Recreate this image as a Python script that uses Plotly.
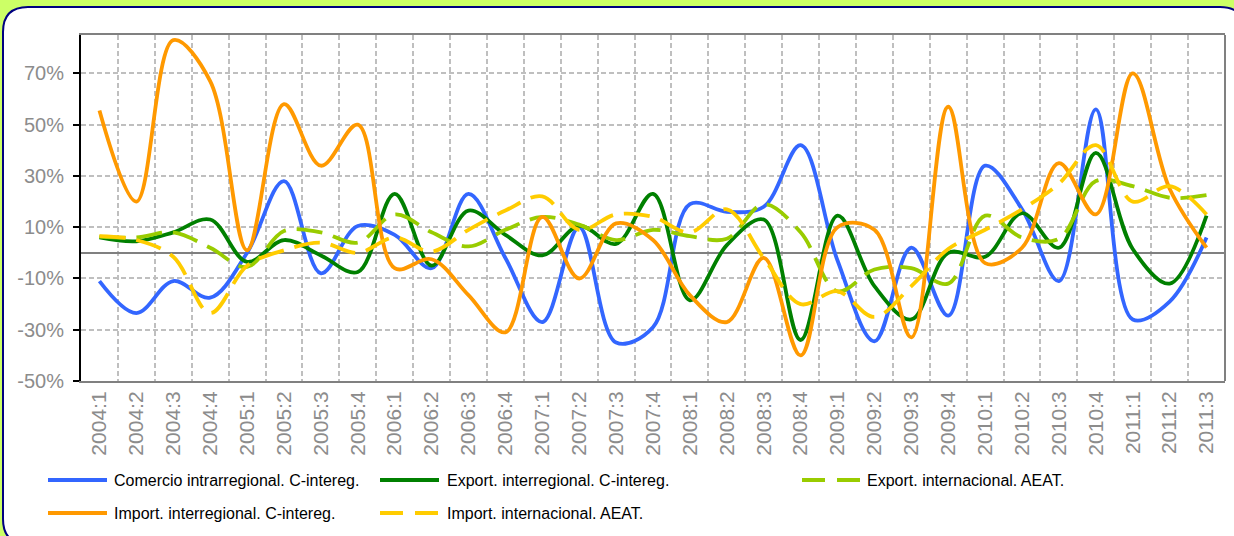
import plotly.graph_objects as go

# Quarterly periods (category axis)
periods = [
    "2004:1", "2004:2", "2004:3", "2004:4",
    "2005:1", "2005:2", "2005:3", "2005:4",
    "2006:1", "2006:2", "2006:3", "2006:4",
    "2007:1", "2007:2", "2007:3", "2007:4",
    "2008:1", "2008:2", "2008:3", "2008:4",
    "2009:1", "2009:2", "2009:3", "2009:4",
    "2010:1", "2010:2", "2010:3", "2010:4",
    "2011:1", "2011:2", "2011:3",
]

# Year-on-year rates, in percent
comercio_intrarregional = [
    -11, -23.5, -11, -17.5, 0, 28, -8, 10.5,
    7, -6, 23, -2, -27, 10, -35, -29,
    19, 16, 18, 42, -3, -34.5, 2, -24.5,
    34, 17, -11, 56, -26, -19, 6,
]
export_interregional = [
    6, 4.5, 8, 13, -3.5, 5, -1, -7.5,
    23, -5, 16.5, 7, -1, 10.5, 3.5, 23,
    -18.5, 3, 13, -34, 14.5, -13, -26, 0,
    -1.5, 15.5, 2, 39, 1.5, -12, 14.5,
]
export_internacional = [
    6.3, 6, 8, 2, -5.5, 8.5, 8, 4,
    15, 8, 2.5, 9, 14, 11, 5, 9,
    6.5, 5.5, 19, 8, -15, -6.5, -6, -12,
    14.5, 6, 5.5, 28, 26, 21.5, 22.5,
]
import_interregional = [
    55.5, 20, 83, 67, 1, 58, 34, 50,
    -6, -2.5, -16.5, -31, 14, -10, 11.5, 5,
    -16.5, -27, -2, -40, 10, 9, -33, 57,
    -4, 2, 35, 15, 70, 25, 2,
]
import_internacional = [
    6.5, 5, -1.5, -23.5, -5, 1, 4, 0,
    6, 0.5, 9, 16.5, 22, 9, 15, 14,
    8, 17, -2, -20, -15, -25, -13, 1.5,
    9, 17, 27, 42, 20, 26, 15,
]

y_ticks = [-50, -30, -10, 10, 30, 50, 70]
y_tick_labels = ["-50%", "-30%", "-10%", "10%", "30%", "50%", "70%"]

series = [
    ("Comercio intrarregional. C-intereg.", comercio_intrarregional, "#3366FF", "solid"),
    ("Export. interregional. C-intereg.", export_interregional, "#008000", "solid"),
    ("Export. internacional. AEAT.", export_internacional, "#99CC00", "26px,11px"),
    ("Import. interregional. C-intereg.", import_interregional, "#FF9900", "solid"),
    ("Import. internacional. AEAT.", import_internacional, "#FFCC00", "26px,11px"),
]

# legend slot (column, row) of each series
legend_slots = [(0, 0), (1, 0), (2, 0), (0, 1), (1, 1)]

W, H = 1234, 536
PL, PR, PT, PB = 81, 1225, 35, 381  # plot area in pixels


def px_x(px):
    return (px - PL) / (PR - PL)


def px_y(py):
    return (PB - py) / (PB - PT)


fig = go.Figure()
for name, values, color, dash in series:
    fig.add_trace(go.Scatter(
        x=periods, y=values, name=name, mode="lines",
        line=dict(color=color, width=3.8, dash=dash, shape="spline", smoothing=1.0),
        showlegend=False,
    ))

# white rounded panel with navy border
bx0, by0, bx1, by1, r = 3, 7, 1245, 544, 25
pts = [
    ("M", (bx0 + r, by0)), ("L", (bx1 - r, by0)), ("Q", (bx1, by0), (bx1, by0 + r)),
    ("L", (bx1, by1 - r)), ("Q", (bx1, by1), (bx1 - r, by1)),
    ("L", (bx0 + r, by1)), ("Q", (bx0, by1), (bx0, by1 - r)),
    ("L", (bx0, by0 + r)), ("Q", (bx0, by0), (bx0 + r, by0)),
]
path = ""
for cmd, *coords in pts:
    path += cmd + " ".join(f"{px_x(cx):.5f},{px_y(cy):.5f}" for cx, cy in coords) + " "
path += "Z"
shapes = [dict(type="path", path=path, xref="paper", yref="paper",
               fillcolor="white", line=dict(color="#000080", width=2), layer="below")]

# right border of the plot area
shapes.append(dict(type="line", xref="paper", yref="paper", x0=1, x1=1, y0=0, y1=1,
                   line=dict(color="#808080", width=2)))

# legend
col_line = [(48, 107), (380, 439), (802, 860)]
col_text = [112, 445, 865]
row_y = [480, 513]
annotations = []
for (name, values, color, dash), (c, rw) in zip(series, legend_slots):
    yy = px_y(row_y[rw])
    shapes.append(dict(type="line", xref="paper", yref="paper",
                       x0=px_x(col_line[c][0]), x1=px_x(col_line[c][1]), y0=yy, y1=yy,
                       line=dict(color=color, width=3.8,
                                 dash="23px,12px" if dash != "solid" else "solid")))
    annotations.append(dict(xref="paper", yref="paper", x=px_x(col_text[c]), y=yy,
                            xanchor="left", yanchor="middle", text=name, showarrow=False,
                            font=dict(size=16, color="black")))

fig.update_layout(
    width=W, height=H, autosize=False,
    margin=dict(l=PL, r=W - PR, t=PT, b=H - PB, pad=0),
    paper_bgcolor="#CCFF66", plot_bgcolor="white",
    font=dict(family="Liberation Sans, Arial, sans-serif", color="#808080"),
    shapes=shapes, annotations=annotations,
    showlegend=False,
)
fig.update_xaxes(
    type="category", range=[-0.5, len(periods) - 0.5],
    tickson="boundaries", ticks="", tickangle=-90,
    tickfont=dict(size=21, color="#8C8C8C"),
    showgrid=True, gridcolor="#BFBFBF", gridwidth=1.5, griddash="5px,3px",
    showline=True, linecolor="#808080", linewidth=2, mirror=True,
    fixedrange=True,
)
fig.update_yaxes(
    range=[-50, 85], tickvals=y_ticks, ticktext=y_tick_labels,
    ticks="outside", ticklen=6, tickwidth=2, tickcolor="black",
    ticklabelstandoff=5,
    tickfont=dict(size=20, color="#8C8C8C"),
    showgrid=True, gridcolor="#BFBFBF", gridwidth=1.5, griddash="5px,3px",
    zeroline=True, zerolinecolor="#808080", zerolinewidth=2,
    showline=True, linecolor="black", linewidth=2,
    fixedrange=True,
)

fig.write_html("out.html", config=dict(displayModeBar=False))
